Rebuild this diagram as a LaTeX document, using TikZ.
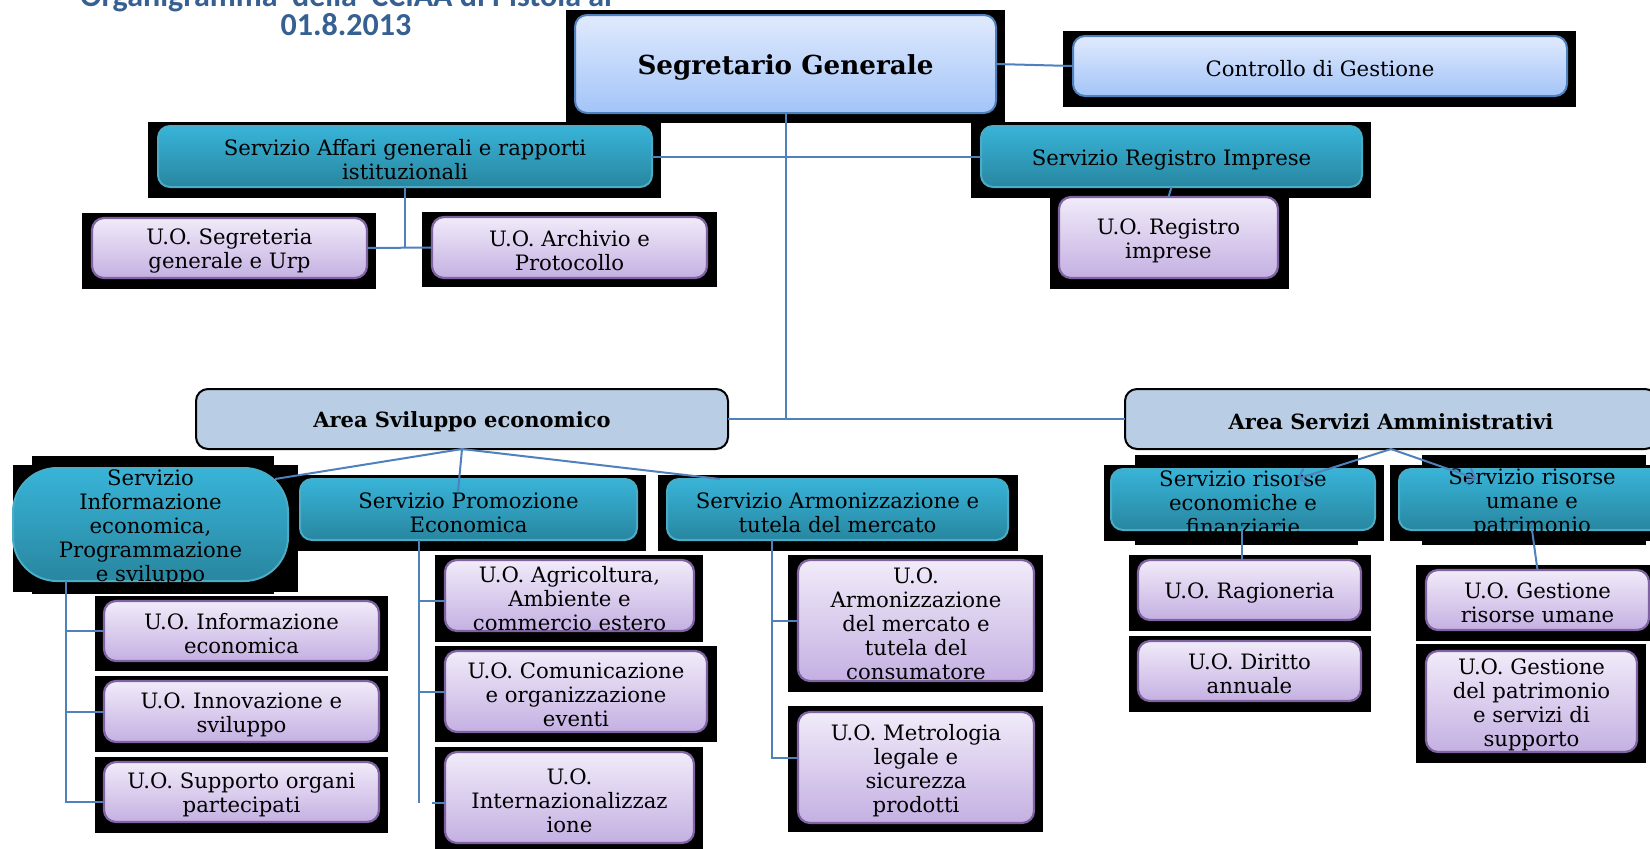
\documentclass[tikz,border=0pt]{standalone}
\usepackage{fontspec}
\setmainfont{DejaVu Serif}
\newfontfamily\titlefont{Carlito}
\usetikzlibrary{arrows.meta}
\definecolor{lineblue}{RGB}{79,129,189}
\definecolor{segtop}{RGB}{224,234,253}
\definecolor{segbot}{RGB}{163,196,248}
\definecolor{segdraw}{RGB}{79,129,189}
\definecolor{servtop}{RGB}{56,180,216}
\definecolor{servbot}{RGB}{40,134,160}
\definecolor{servdraw}{RGB}{75,172,198}
\definecolor{uotop}{RGB}{241,235,249}
\definecolor{uobot}{RGB}{196,176,226}
\definecolor{uodraw}{RGB}{128,100,162}
\definecolor{areafill}{RGB}{185,205,229}
\definecolor{titleblue}{RGB}{55,96,146}
\newcommand\blk[4]{\fill[black] (#1,#2) rectangle (#3,#4);}
\newcommand\bx[8][]{%
  \node[#3, minimum width={(#6-#4)*0.5pt}, minimum height={(#7-#5)*0.5pt}] (#2) at ({(#4+#6)/2},{(#5+#7)/2}) {};
  \node[txt,#1] (#2-t) at ([yshift=-1.5pt]#2.center) {#8};
}
\begin{document}
\begin{tikzpicture}[x=0.5pt,y=-0.5pt,
  every node/.style={inner sep=0pt, outer sep=0pt},
  txt/.style={align=center, font=\fontsize{10.6}{12}\selectfont, text=black},
  bold/.style={font=\bfseries\fontsize{10.5}{12}\selectfont},
  big/.style={font=\bfseries\fontsize{13.1}{15}\selectfont},
  segbox/.style={rounded corners=6pt, top color=segtop, bottom color=segbot, draw=segdraw, line width=1pt},
  servbox/.style={rounded corners=6pt, top color=servtop, bottom color=servbot, draw=servdraw, line width=1pt},
  uobox/.style={rounded corners=6pt, top color=uotop, bottom color=uobot, draw=uodraw, line width=1.1pt},
  areabox/.style={rounded corners=6pt, fill=areafill, draw=black, line width=1pt},
  conn/.style={draw=lineblue, line width=1pt},
  title/.style={font=\titlefont\bfseries\fontsize{16}{18}\selectfont, text=titleblue}
]
\clip (0,0) rectangle (1650,848);
\fill[white] (0,0) rectangle (1650,848);
% title
\node[title, anchor=base] (t1) at (346,6) {Organigramma\ \ della\ \ CCIAA di Pistoia al};
\node[title, anchor=base] (t2) at (346,35) {01.8.2013};
% black backgrounds
\blk{566}{10}{1005}{123}
\blk{1063}{31}{1576}{107}
\blk{148}{122}{661}{198}
\blk{971}{122}{1371}{198}
\blk{82}{213}{376}{289}
\blk{422}{212}{717}{287}
\blk{1050}{198}{1289}{289}
\blk{13}{465}{298}{592}
\blk{32}{456}{274}{594}
\blk{291}{475}{646}{551}
\blk{658}{475}{1018}{551}
\blk{1104}{465}{1384}{541}
\blk{1135}{455}{1358}{545}
\blk{1390}{465}{1660}{541}
\blk{1422}{455}{1646}{545}
\blk{95}{596}{388}{671}
\blk{95}{676}{388}{752}
\blk{95}{757}{388}{833}
\blk{435}{555}{703}{642}
\blk{435}{646}{717}{742}
\blk{435}{747}{703}{850}
\blk{788}{555}{1043}{692}
\blk{788}{706}{1043}{832}
\blk{1129}{555}{1371}{631}
\blk{1129}{636}{1371}{712}
\blk{1416}{565}{1652}{641}
\blk{1416}{644}{1646}{763}
% boxes
\bx[big]{segr}{segbox}{575}{15}{996}{113}{Segretario Generale}
\bx{ctrl}{segbox}{1073}{36}{1567}{96}{Controllo di Gestione}
\bx{affari}{servbox}{158}{126}{652}{187}{Servizio Affari generali e rapporti\\istituzionali}
\bx{regimp}{servbox}{981}{126}{1362}{187}{Servizio Registro Imprese}
\bx{segrurp}{uobox}{92}{218}{367}{278}{U.O. Segreteria\\generale e Urp}
\bx{archivio}{uobox}{432}{217}{707}{278}{U.O. Archivio e\\Protocollo}
\bx{uoreg}{uobox}{1059}{197}{1278}{278}{U.O. Registro\\imprese}
\bx[bold]{aresv}{areabox}{196}{389}{728}{449}{Area Sviluppo economico}
\bx[bold]{aream}{areabox}{1125}{389}{1657}{449}{Area Servizi Amministrativi}
\bx{sinfo}{servbox,rounded corners=22pt}{13}{468}{288}{581}{Servizio\\Informazione\\economica,\\Programmazione\\e sviluppo}
\bx{sprom}{servbox}{300}{479}{637}{540}{Servizio Promozione\\Economica}
\bx{sarm}{servbox}{667}{479}{1008}{540}{Servizio Armonizzazione e\\tutela del mercato}
\bx{srec}{servbox}{1111}{469}{1375}{530}{Servizio risorse\\economiche e\\finanziarie}
\bx{srum}{servbox}{1399}{469}{1665}{530}{Servizio risorse\\umane e\\patrimonio}
\bx{uoinfo}{uobox}{104}{601}{379}{661}{U.O. Informazione\\economica}
\bx{uoinn}{uobox}{104}{681}{379}{742}{U.O. Innovazione e\\sviluppo}
\bx{uosup}{uobox}{104}{762}{379}{822}{U.O. Supporto organi\\partecipati}
\bx{uoagr}{uobox}{445}{560}{694}{631}{U.O. Agricoltura,\\Ambiente e\\commercio estero}
\bx{uocom}{uobox}{445}{651}{707}{732}{U.O. Comunicazione\\e organizzazione\\eventi}
\bx{uoint}{uobox}{445}{752}{694}{843}{U.O.\\Internazionalizzaz\\ione}
\bx{uoarm}{uobox}{798}{560}{1034}{681}{U.O.\\Armonizzazione\\del mercato e\\tutela del\\consumatore}
\bx{uomet}{uobox}{798}{712}{1034}{823}{U.O. Metrologia\\legale e\\sicurezza\\prodotti}
\bx{uorag}{uobox}{1138}{560}{1361}{620}{U.O. Ragioneria}
\bx{uodir}{uobox}{1138}{641}{1361}{701}{U.O. Diritto\\annuale}
\bx{uogru}{uobox}{1426}{570}{1649}{630}{U.O. Gestione\\risorse umane}
\bx{uogpa}{uobox}{1426}{651}{1637}{752}{U.O. Gestione\\del patrimonio\\e servizi di\\supporto}
% helper coordinates
\coordinate (infoV) at ([shift={(53,0)}]sinfo.south west);
\coordinate (infoIn) at ([shift={(-13,11)}]sinfo.north east);
\coordinate (promIn) at ([shift={(158,13)}]sprom.north west);
\coordinate (armIn) at ([shift={(53,0)}]sarm.north west);
\coordinate (supIn) at ([shift={(0,10)}]uosup.west);
\coordinate (promV) at ([shift={(119,0)}]sprom.south west);
\coordinate (agrIn) at ([shift={(0,5)}]uoagr.west);
\coordinate (intIn) at ([shift={(0,5)}]uoint.west);
\coordinate (intStub) at ([shift={(-13,5)}]uoint.west);
\coordinate (armV) at ([shift={(105,0)}]sarm.south west);
\coordinate (metIn) at ([shift={(0,-10)}]uomet.west);
\coordinate (recIn) at ([shift={(186,10)}]srec.north west);
\coordinate (rumIn) at ([shift={(78,10)}]srum.north west);
\coordinate (recV) at ([shift={(-1,0)}]srec.south);
% connectors
\draw[conn] (segr.east) -- (ctrl.west);
\draw[conn] (segr.south) -- (segr.south |- aresv.east);
\draw[conn] (aresv.east) -- (aream.west);
\draw[conn] (affari.east) -- (regimp.west);
\draw[conn] (affari.south) -- (affari.south |- segrurp.east);
\draw[conn] (segrurp.east) -- (archivio.west);
\draw[conn] (regimp.south) -- (uoreg.north);
% Area Sviluppo
\draw[conn] (aresv.south) -- (infoIn);
\draw[conn] (aresv.south) -- (promIn);
\draw[conn] (aresv.south) -- (armIn);
\draw[conn] (infoV) |- (supIn);
\draw[conn] (infoV |- uoinfo.west) -- (uoinfo.west);
\draw[conn] (infoV |- uoinn.west) -- (uoinn.west);
\draw[conn] (promV) -- (promV |- intIn);
\draw[conn] (promV |- agrIn) -- (agrIn);
\draw[conn] (promV |- uocom.west) -- (uocom.west);
\draw[conn] (intStub) -- (intIn);
\draw[conn] (armV) |- (metIn);
\draw[conn] (armV |- uoarm.west) -- (uoarm.west);
% Area Servizi
\draw[conn, -{Straight Barb[length=4pt,width=8pt]}] (aream.south) -- (recIn);
\draw[conn, -{Straight Barb[length=4pt,width=8pt]}] (aream.south) -- (rumIn);
\draw[conn] (recV) -- (recV |- uorag.north);
\draw[conn] (srum.south) -- (uogru.north);
\end{tikzpicture}
\end{document}
